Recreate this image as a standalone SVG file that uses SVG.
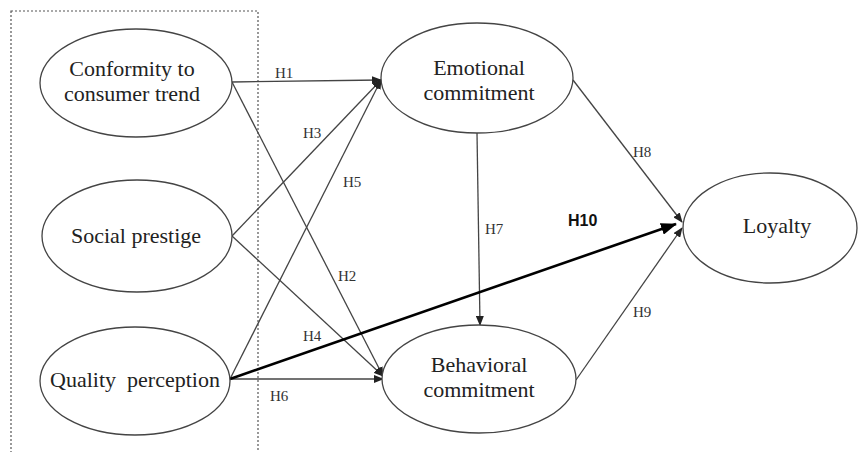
<svg xmlns="http://www.w3.org/2000/svg" width="859" height="452" viewBox="0 0 859 452">
<defs>
<style>
.node ellipse{fill:#fff;stroke:#444;stroke-width:1.3}
.node text{font-family:"Liberation Serif","Times New Roman",serif;font-size:22px;fill:#222;text-anchor:middle}
.conn line{stroke:#444;stroke-width:1.3;fill:none}
.conn line.bold{stroke:#000;stroke-width:2.6}
.lbl{font-family:"Liberation Serif","Times New Roman",serif;font-size:15px;fill:#333}
.lblb{font-family:"Liberation Sans",Arial,sans-serif;font-size:16px;font-weight:bold;fill:#111}
</style>
<marker id="ah" markerWidth="10" markerHeight="8" refX="9" refY="4" orient="auto" markerUnits="userSpaceOnUse">
<path d="M0,0 L10,4 L0,8 Z" fill="#222"/>
</marker>
<marker id="ahb" markerWidth="16" markerHeight="12" refX="15" refY="6" orient="auto" markerUnits="userSpaceOnUse">
<path d="M0,0 L16,6 L0,12 Z" fill="#000"/>
</marker>
</defs>
<rect width="859" height="452" fill="#fff"/>
<rect x="11" y="11" width="247" height="460" fill="none" stroke="#555" stroke-width="1.2" stroke-dasharray="2,2"/>
<g id="connectors" class="conn">
<line x1="232" y1="82" x2="381" y2="80" marker-end="url(#ah)"/>
<line x1="232" y1="82" x2="383" y2="376" marker-end="url(#ah)"/>
<line x1="232" y1="236" x2="381" y2="80" marker-end="url(#ah)"/>
<line x1="232" y1="236" x2="383" y2="376" marker-end="url(#ah)"/>
<line x1="230" y1="379" x2="381" y2="80" marker-end="url(#ah)"/>
<line x1="230" y1="379" x2="383" y2="379" marker-end="url(#ah)"/>
<line x1="477" y1="133" x2="480" y2="325" marker-end="url(#ah)"/>
<line x1="573" y1="80" x2="682" y2="222" marker-end="url(#ah)"/>
<line x1="576" y1="380" x2="682" y2="228" marker-end="url(#ah)"/>
<line class="bold" x1="230" y1="379" x2="676" y2="224" marker-end="url(#ahb)"/>
</g>
<g id="labels">
<text class="lbl" x="275" y="78">H1</text>
<text class="lbl" x="303" y="138">H3</text>
<text class="lbl" x="343" y="187">H5</text>
<text class="lbl" x="338" y="281">H2</text>
<text class="lbl" x="303" y="341">H4</text>
<text class="lbl" x="270" y="401">H6</text>
<text class="lbl" x="485" y="234">H7</text>
<text class="lbl" x="633" y="157">H8</text>
<text class="lbl" x="633" y="317">H9</text>
<text class="lblb" x="568" y="226">H10</text>
</g>
<g id="n-conformity" class="node"><ellipse cx="136" cy="83" rx="96" ry="54"/><text x="132" y="76">Conformity to</text><text x="132" y="101">consumer trend</text></g>
<g id="n-social" class="node"><ellipse cx="137" cy="236" rx="95" ry="56"/><text x="136" y="243">Social prestige</text></g>
<g id="n-quality" class="node"><ellipse cx="135" cy="381" rx="95" ry="54"/><text x="135" y="387" xml:space="preserve">Quality  perception</text></g>
<g id="n-emotional" class="node"><ellipse cx="477" cy="78" rx="96" ry="55"/><text x="479" y="75">Emotional</text><text x="479" y="100">commitment</text></g>
<g id="n-behavioral" class="node"><ellipse cx="479" cy="379" rx="97" ry="54"/><text x="479" y="372">Behavioral</text><text x="479" y="397">commitment</text></g>
<g id="n-loyalty" class="node"><ellipse cx="770" cy="228" rx="87" ry="55"/><text x="777" y="233">Loyalty</text></g>
</svg>
